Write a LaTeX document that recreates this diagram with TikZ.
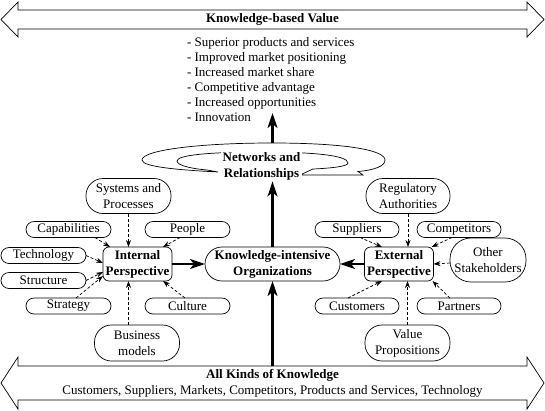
\documentclass[tikz,border=0pt]{standalone}
\usepackage{fontspec}
\setmainfont{Liberation Serif}
\usetikzlibrary{arrows.meta}
\begin{document}
\begin{tikzpicture}[x=1pt,y=-1pt,
  every node/.style={font=\fontsize{13}{16}\selectfont, inner sep=0pt, outer sep=0pt, align=center},
  ln/.style={line width=0.7pt},
  sat/.style={draw, ln, minimum width=85pt, minimum height=16pt, rounded corners=8pt},
  sattwo/.style={draw, ln, minimum width=85pt, minimum height=35pt, rounded corners=17pt},
  persp/.style={draw, ln, minimum width=69pt, minimum height=34pt, rounded corners=6pt, font=\fontsize{13}{16}\selectfont\bfseries},
  dashar/.style={ln, dash pattern=on 3pt off 2pt, -{Stealth[length=7pt,width=5pt]}},
  bigar/.style={line width=2.2pt, -{Stealth[length=15pt,width=10pt,inset=4pt]}},
  bar/.style={ln, line join=miter}
]
\useasboundingbox (0,0) rectangle (545,410);
\fill[white] (0,0) rectangle (545,410);

% top bar
\node[minimum width=509pt, minimum height=19pt, font=\fontsize{13}{16}\selectfont\bfseries] (topbar) at (272.5,19.5) {Knowledge-based Value};
\draw[bar] (topbar.north west) -- (topbar.north east) -- ([yshift=8pt]topbar.north east) -- ([xshift=17pt]topbar.east) -- ([yshift=-8pt]topbar.south east) -- (topbar.south east) -- (topbar.south west) -- ([yshift=-8pt]topbar.south west) -- ([xshift=-17pt]topbar.west) -- ([yshift=8pt]topbar.north west) -- cycle;

% bottom bar
\node[minimum width=509pt, minimum height=34pt] (botbar) at (272.5,383) {\textbf{All Kinds of Knowledge}\\Customers, Suppliers, Markets, Competitors, Products and Services, Technology};
\draw[bar] (botbar.north west) -- (botbar.north east) -- ([yshift=9pt]botbar.north east) -- ([xshift=17pt]botbar.east) -- ([yshift=-9pt]botbar.south east) -- (botbar.south east) -- (botbar.south west) -- ([yshift=-9pt]botbar.south west) -- ([xshift=-17pt]botbar.west) -- ([yshift=9pt]botbar.north west) -- cycle;

% value list
\node[anchor=north west, align=left, font=\fontsize{13}{15}\selectfont] (vals) at (187,37) {- Superior products and services\\- Improved market positioning\\- Increased market share\\- Competitive advantage\\- Increased opportunities\\- Innovation};

% spiral
\draw[ln, line join=miter] (218,172) .. controls (180,170) and (142,167) .. (142,160)
  .. controls (142,150) and (200,143) .. (272,143)
  .. controls (345,143) and (385,150) .. (385,160)
  .. controls (385,166) and (375,170) .. (358,171.5)
  -- (363,175) -- (300,175) -- (313,169)
  .. controls (335,168) and (348,166) .. (348,163)
  .. controls (348,155) and (310,152) .. (262,152)
  .. controls (210,152) and (177,155) .. (177,161)
  .. controls (177,166) and (195,169) .. (207,170) -- cycle;

\node[fill=white, inner sep=1.5pt, font=\fontsize{13}{16}\selectfont\bfseries] (net) at (261.5,166) {Networks and\\Relationships};

% central nodes
\node[persp] (intp) at (137.5,264) {Internal\\Perspective};
\node[draw, ln, minimum width=135pt, minimum height=34pt, rounded corners=17pt, font=\fontsize{13}{16}\selectfont\bfseries] (kio) at (272.5,264) {Knowledge-intensive\\Organizations};
\node[persp] (ext) at (399,264) {External\\Perspective};

% left satellites
\node[sattwo] (sys) at (128.5,196) {Systems and\\Processes};
\node[sat] (cap) at (68.5,229.5) {Capabilities};
\node[sat] (peo) at (187.5,229.5) {People};
\node[sat] (tec) at (43.5,255.5) {Technology};
\node[sat] (str) at (43.5,280.5) {Structure};
\node[sat] (stg) at (68.5,306) {Strategy};
\node[sat] (cul) at (187.5,306) {Culture};
\node[sattwo, minimum height=36pt] (bm) at (137,343) {Business\\models};

% right satellites
\node[sattwo, minimum width=84pt] (reg) at (408,196) {Regulatory\\Authorities};
\node[sat, minimum width=84pt] (sup) at (357,229.5) {Suppliers};
\node[sat, minimum width=84pt] (com) at (459,229.5) {Competitors};
\node[draw, ln, minimum width=76pt, minimum height=44pt, rounded corners=21pt] (oth) at (488,260) {Other\\Stakeholders};
\node[sat, minimum width=84pt] (cus) at (357,306) {Customers};
\node[sat, minimum width=84pt] (par) at (459,306) {Partners};
\node[sattwo, minimum height=36pt] (vp) at (407.5,343) {Value\\Propositions};

% dashed arrows left
\draw[dashar] (sys.south) -- (sys.south |- intp.north);
\draw[dashar] ([xshift=-16pt]cap.south east) -- ([xshift=7pt]intp.north west);
\draw[dashar] ([xshift=35pt]peo.south west) -- ([xshift=-9pt]intp.north east);
\draw[dashar] (tec.east) -- ([yshift=1pt]intp.west);
\draw[dashar] (str.east) -- ([yshift=-8pt]intp.west);
\draw[dashar] ([xshift=50pt]stg.north west) -- ([yshift=-12pt]intp.west);
\draw[dashar] ([xshift=40pt]cul.north west) -- ([xshift=-9pt]intp.south east);
\draw[dashar] (bm.north -| sys.south) -- (intp.south -| sys.south);

% dashed arrows right
\draw[dashar] (reg.south) -- (reg.south |- ext.north);
\draw[dashar] ([xshift=45pt]sup.south west) -- ([xshift=17.5pt]ext.north west);
\draw[dashar] ([xshift=35pt]com.south west) -- ([xshift=-2pt]ext.north east);
\draw[dashar] ([yshift=-3pt]oth.west) -- (ext.east);
\draw[dashar] ([xshift=33pt]cus.north west) -- ([xshift=17.5pt]ext.south west);
\draw[dashar] ([xshift=33pt]par.north west) -- ([xshift=-1pt]ext.south east);
\draw[dashar] (vp.north) -- (vp.north |- ext.south);

% thick arrows
\coordinate (sptop) at (272.5,143);
\coordinate (vtip) at (272.5,113);
\draw[bigar] (intp.east) -- (kio.west);
\draw[bigar] (ext.west) -- (kio.east);
\draw[bigar] (kio.north) -- (kio.north |- net.south);
\draw[bigar] (botbar.north -| kio.south) -- (kio.south);
\draw[bigar] (sptop) -- (vtip);
\end{tikzpicture}
\end{document}
